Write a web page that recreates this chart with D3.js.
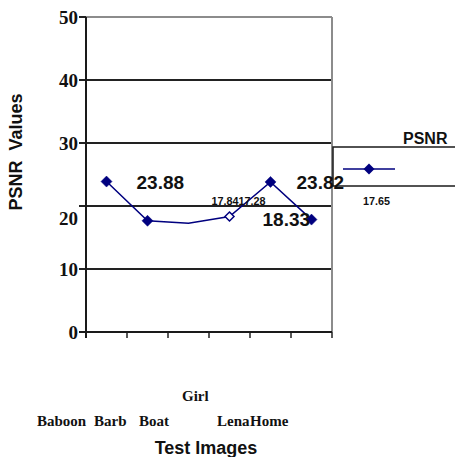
<!DOCTYPE html>
<html>
<head>
<meta charset="utf-8">
<script src="https://cdn.jsdelivr.net/npm/d3@7"></script>
<style>
  body { margin: 0; background: #fff; }
  text { font-family: "Liberation Sans", Arial, sans-serif; font-weight: bold; }
  .serif { font-family: "Liberation Serif", "Times New Roman", serif; }
</style>
</head>
<body>
<svg width="455" height="457"></svg>
<script>
// Data
let categories = ["Baboon", "Barb", "Boat", "Girl", "Lena", "Home"];
let psnr = [23.88, 17.65, 17.28, 18.33, 23.82, 17.84];
let markerKind = ["filled", "filled", "none", "hollow", "filled", "filled"];
let yTicks = [0, 10, 20, 30, 40, 50];
let annotations = [
  { text: "23.88", at: "Baboon" },
  { text: "17.8417.28", at: "Girl" },
  { text: "23.82", at: "Lena" },
  { text: "18.33", at: "Home" }
];
let legendValue = "17.65";

let svg = d3.select("svg");
let navy = "#00007f";

// plot box
let plotLeft = 86, plotRight = 332, plotBottom = 332;

let x = d3.scaleBand().domain(categories).range([plotLeft, plotRight]);
let y = d3.scaleLinear().domain([0, 50]).range([plotBottom, 17]);

let points = categories.map((c, i) => ({ cat: c, value: psnr[i], kind: markerKind[i] }));

// gridlines + y ticks
svg.append("g")
  .selectAll("line")
  .data(yTicks.filter(d => d > 0 && d < 50))
  .enter()
  .append("line")
  .attr("x1", plotLeft - 7).attr("x2", plotRight)
  .attr("y1", d => y(d)).attr("y2", d => y(d))
  .attr("stroke", "#222")
  .attr("stroke-width", 1.8);

// top & right border (gray)
svg.append("line")
  .attr("x1", plotLeft - 7).attr("x2", plotRight)
  .attr("y1", y(50)).attr("y2", y(50))
  .attr("stroke", "#8c8c8c").attr("stroke-width", 2);
svg.append("line")
  .attr("x1", plotLeft - 7).attr("x2", plotLeft)
  .attr("y1", y(50)).attr("y2", y(50))
  .attr("stroke", "#222").attr("stroke-width", 2);
svg.append("line")
  .attr("x1", plotRight).attr("x2", plotRight)
  .attr("y1", y(50)).attr("y2", plotBottom)
  .attr("stroke", "#8c8c8c").attr("stroke-width", 2);

// x axis with ticks
let xAxis = svg.append("g")
  .attr("transform", "translate(0," + plotBottom + ")")
  .call(d3.axisBottom(x).tickValues([]).tickSizeOuter(0));
xAxis.select(".domain").remove();
let xTickPos = categories.map(c => x(c)).concat([plotRight]);
xAxis.selectAll(".xt")
  .data(xTickPos)
  .enter()
  .append("line")
  .attr("class", "xt")
  .attr("x1", d => d).attr("x2", d => d)
  .attr("y1", 0).attr("y2", 6)
  .attr("stroke", "#222").attr("stroke-width", 1.5);

svg.append("line")
  .attr("x1", plotLeft - 7).attr("x2", plotRight)
  .attr("y1", plotBottom).attr("y2", plotBottom)
  .attr("stroke", "#1a1a1a").attr("stroke-width", 2);
svg.append("line")
  .attr("x1", plotLeft).attr("x2", plotLeft)
  .attr("y1", y(50)).attr("y2", plotBottom + 6)
  .attr("stroke", "#1a1a1a").attr("stroke-width", 2);

// y tick labels ("20" sits below its line in the original)
svg.append("g")
  .selectAll("text")
  .data(yTicks)
  .enter()
  .append("text")
  .attr("class", "serif")
  .attr("x", 78)
  .attr("y", d => y(d) + (d === 20 ? 12 : 0))
  .attr("dy", "0.35em")
  .attr("text-anchor", "end")
  .attr("font-size", "19px")
  .attr("fill", "#111")
  .text(d => d);

// line
let line = d3.line()
  .x(d => x(d.cat) + x.bandwidth() / 2)
  .y(d => y(d.value));

svg.append("path")
  .datum(points)
  .attr("d", line)
  .attr("fill", "none")
  .attr("stroke", navy)
  .attr("stroke-width", 1.5);

let diamond = r => "M0," + (-r) + "L" + r + ",0L0," + r + "L" + (-r) + ",0Z";

svg.append("g")
  .selectAll("path")
  .data(points.filter(d => d.kind !== "none"))
  .enter()
  .append("path")
  .attr("transform", d => "translate(" + (x(d.cat) + x.bandwidth() / 2) + "," + y(d.value) + ")")
  .attr("d", d => d.kind === "hollow" ? diamond(4.5) : diamond(5.5))
  .attr("fill", d => d.kind === "hollow" ? "#fff" : navy)
  .attr("stroke", navy)
  .attr("stroke-width", d => d.kind === "hollow" ? 1.5 : 0.5);

// legend
svg.append("text")
  .attr("x", 403)
  .attr("y", 144)
  .attr("font-size", "16px")
  .attr("fill", "#111")
  .text("PSNR");

svg.append("rect")
  .attr("x", 333).attr("y", 147)
  .attr("width", 140).attr("height", 39)
  .attr("fill", "#fff")
  .attr("stroke", "#1a1a1a")
  .attr("stroke-width", 1.5);

svg.append("line")
  .attr("x1", 343).attr("x2", 395)
  .attr("y1", 169).attr("y2", 169)
  .attr("stroke", navy).attr("stroke-width", 1.5);
svg.append("path")
  .attr("transform", "translate(369,169)")
  .attr("d", diamond(5.5))
  .attr("fill", navy);

svg.append("text")
  .attr("x", 363)
  .attr("y", 205)
  .attr("font-size", "10.8px")
  .attr("fill", "#111")
  .text(legendValue);

// value labels (scattered as in the original, drawn on top)
let labelStyle = {
  "Baboon": { dx: 30, dy: 7, size: 19 },
  "Girl": { dx: -18, dy: -12, size: 10.8 },
  "Lena": { dx: 26, dy: 7, size: 19 },
  "Home": { dx: -49, dy: 6, size: 19 }
};
let pointOf = c => points[categories.indexOf(c)];
svg.append("g")
  .selectAll("text")
  .data(annotations)
  .enter()
  .append("text")
  .attr("x", d => x(d.at) + x.bandwidth() / 2 + labelStyle[d.at].dx)
  .attr("y", d => y(pointOf(d.at).value) + labelStyle[d.at].dy)
  .attr("font-size", d => labelStyle[d.at].size + "px")
  .attr("fill", "#111")
  .text(d => d.text);

// category labels
let catShift = { Baboon: [-49, 426], Barb: [-33, 426], Boat: [-29, 426], Girl: [-27, 401], Lena: [-33, 426], Home: [-41, 426] };
svg.append("g")
  .selectAll("text")
  .data(categories)
  .enter()
  .append("text")
  .attr("class", "serif")
  .attr("x", d => x(d) + catShift[d][0])
  .attr("y", d => catShift[d][1])
  .attr("font-size", "15px")
  .attr("fill", "#111")
  .text(d => d);

// axis titles
svg.append("text")
  .attr("x", (plotLeft + plotRight) / 2 - 3)
  .attr("y", 454)
  .attr("text-anchor", "middle")
  .attr("font-size", "18px")
  .attr("fill", "#111")
  .text("Test Images");

svg.append("text")
  .attr("transform", "translate(22,152) rotate(-90)")
  .attr("text-anchor", "middle")
  .attr("font-size", "18px")
  .attr("fill", "#111")
  .style("white-space", "pre")
  .text("PSNR  Values");
</script>
</body>
</html>
